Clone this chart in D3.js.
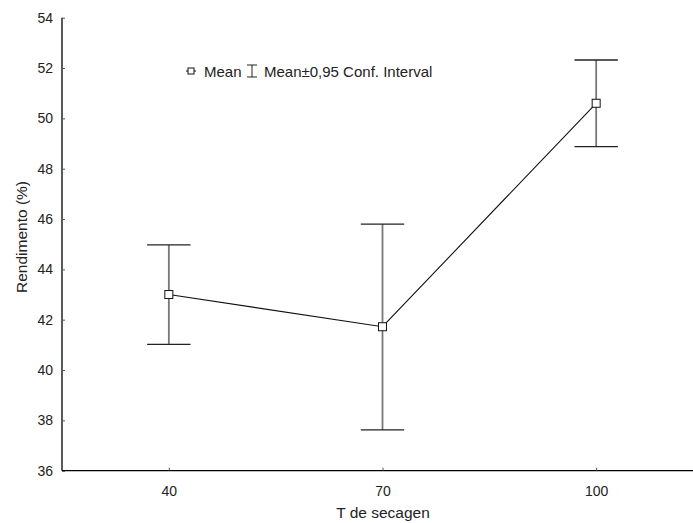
<!DOCTYPE html>
<html>
  <head>
    <meta charset="utf-8">
    <title>Rendimento vs T de secagen</title>
    <script src="https://cdn.jsdelivr.net/npm/d3@7"></script>
    <style>
      body { margin: 0; background: #fff; }
      text { font-family: "Liberation Sans", Arial, sans-serif; }
    </style>
  </head>
  <body>
    <svg id="chart"></svg>
    <script>
// data
var temps = ["40", "70", "100"];
var means = [43.0, 41.72, 50.6];
var ciLow = [41.02, 37.62, 48.88];
var ciHigh = [44.97, 45.8, 52.32];
var yTicks = [36, 38, 40, 42, 44, 46, 48, 50, 52, 54];

var width = 693, height = 523;
var margin = {top: 17.7, right: -10, bottom: 52.3, left: 62};

var svg = d3.select("#chart")
    .attr("width", width)
    .attr("height", height);

var x = d3.scalePoint()
    .domain(temps)
    .range([margin.left, width - margin.right])
    .padding(0.5);

var y = d3.scaleLinear()
    .domain([36, 54])
    .range([height - margin.bottom, margin.top]);

var g = svg.append("g");

// axes
var yAxis = d3.axisLeft(y).tickValues(yTicks).tickSize(-3).tickPadding(9);
g.append("g")
    .attr("transform", "translate(" + margin.left + ",0)")
    .call(yAxis)
    .call(function(s) {
      s.select(".domain").attr("stroke-width", 1.3).attr("d", "M0," + y(54) + "V" + y(36));
      s.selectAll(".tick line").attr("stroke", "#555");
      s.selectAll("text").attr("font-size", 14).attr("fill", "#222");
    });

var xAxis = d3.axisBottom(x).tickSize(-3).tickPadding(15);
g.append("g")
    .attr("transform", "translate(0," + y(36) + ")")
    .call(xAxis)
    .call(function(s) {
      s.select(".domain").attr("stroke-width", 1.3).attr("d", "M" + margin.left + ",0H" + width);
      s.selectAll(".tick line").attr("stroke", "#555");
      s.selectAll("text").attr("font-size", 14).attr("fill", "#222");
    });

// axis titles
svg.append("text")
    .attr("transform", "translate(27,237)rotate(-90)")
    .attr("text-anchor", "middle")
    .attr("font-size", 15.5)
    .attr("fill", "#222")
    .text("Rendimento (%)");

svg.append("text")
    .attr("x", 383)
    .attr("y", 518)
    .attr("text-anchor", "middle")
    .attr("font-size", 15.5)
    .attr("fill", "#222")
    .text("T de secagen");

// error bars
var capW = 21.7;
temps.forEach(function(t, i) {
  var cx = x(t);
  g.append("line")
      .attr("x1", cx).attr("x2", cx)
      .attr("y1", y(ciLow[i])).attr("y2", y(ciHigh[i]))
      .attr("stroke", "#777").attr("stroke-width", 1.8);
  [ciLow[i], ciHigh[i]].forEach(function(v) {
    g.append("line")
        .attr("x1", cx - capW).attr("x2", cx + capW)
        .attr("y1", y(v)).attr("y2", y(v))
        .attr("stroke", "#222").attr("stroke-width", 1.3);
  });
});

// mean line
var line = d3.line()
    .x(function(d, i) { return x(temps[i]); })
    .y(function(d) { return y(d); });

g.append("path")
    .datum(means)
    .attr("d", line)
    .attr("fill", "none")
    .attr("stroke", "#111")
    .attr("stroke-width", 1.1);

g.selectAll(".pt")
    .data(means)
  .enter().append("rect")
    .attr("class", "pt")
    .attr("x", function(d, i) { return x(temps[i]) - 4; })
    .attr("y", function(d) { return y(d) - 4; })
    .attr("width", 8)
    .attr("height", 8)
    .attr("fill", "#fff")
    .attr("stroke", "#111")
    .attr("stroke-width", 1);

// legend
var lg = svg.append("g").attr("transform", "translate(0,71)");
lg.append("line").attr("x1", 186).attr("x2", 196).attr("y1", 0).attr("y2", 0).attr("stroke", "#111");
lg.append("rect").attr("x", 188).attr("y", -3).attr("width", 6).attr("height", 6)
    .attr("fill", "#fff").attr("stroke", "#111");
lg.append("text").attr("x", 204).attr("y", 5.5).attr("font-size", 15).attr("fill", "#222").text("Mean");
lg.append("line").attr("x1", 252).attr("x2", 252).attr("y1", -6).attr("y2", 6).attr("stroke", "#222");
lg.append("line").attr("x1", 247).attr("x2", 257).attr("y1", -6).attr("y2", -6).attr("stroke", "#222");
lg.append("line").attr("x1", 247).attr("x2", 257).attr("y1", 6).attr("y2", 6).attr("stroke", "#222");
lg.append("text").attr("x", 264).attr("y", 5.5).attr("font-size", 15).attr("fill", "#222").text("Mean\u00b10,95 Conf. Interval");
    </script>
  </body>
</html>
